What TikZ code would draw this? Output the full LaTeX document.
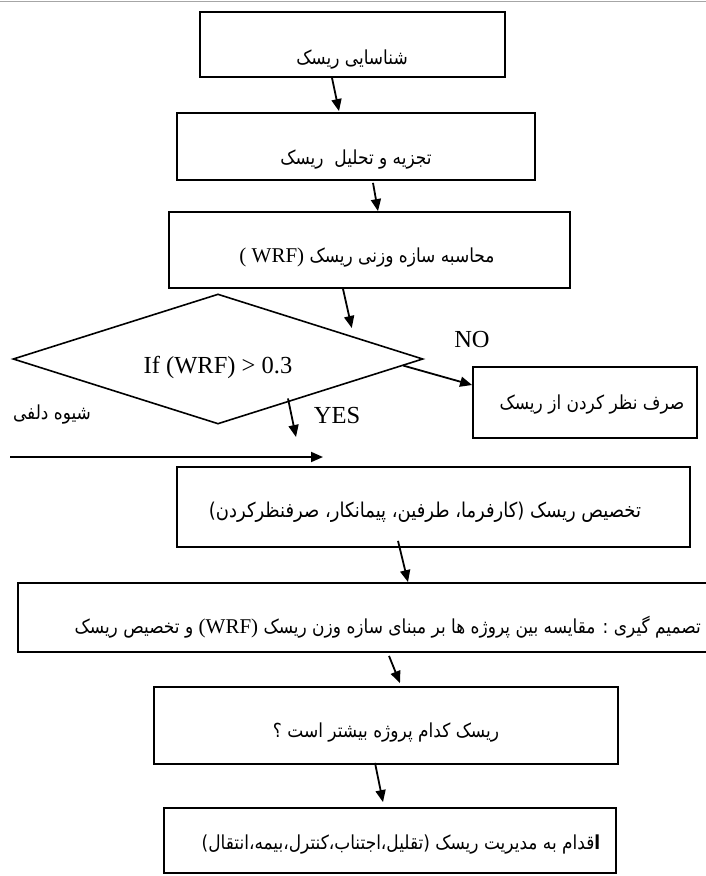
\documentclass[tikz,border=0pt]{standalone}
\usepackage{fontspec}
\setmainfont{Liberation Serif}
\newfontfamily\arabicfont[Script=Arabic,FakeStretch=0.88]{DejaVu Sans}
\TeXXeTstate=1
\usetikzlibrary{arrows.meta,shapes.geometric,calc}
\newcommand\fatext[2][19.3]{{\arabicfont\fontsize{#1}{22}\selectfont\beginR #2\endR}}
\newcommand\lat[1]{\beginL{\rmfamily\fontsize{21}{24}\selectfont #1}\endL}
\begin{document}
\begin{tikzpicture}[x=1pt,y=-1pt,
  box/.style={draw, line width=1.8pt, rectangle, inner sep=0pt},
  arr/.style={-{Triangle[length=12pt,width=10pt]}, line width=1.8pt},
  txt/.style={inner sep=0pt, anchor=center},
  ltxt/.style={inner sep=0pt, anchor=center, font=\fontsize{24.5}{28}\selectfont}]
\useasboundingbox (0,0) rectangle (706,876);
\draw[black!35, line width=1pt] (0,1) -- (706,1);

% boxes
\node[box, minimum width=305pt, minimum height=65pt] (b1) at (352.5,44.5) {};
\node[box, minimum width=358pt, minimum height=67pt] (b2) at (356,146.5) {};
\node[box, minimum width=401pt, minimum height=76pt] (b3) at (369.5,250) {};
\node[draw, line width=1.6pt, diamond, aspect=3.15, minimum width=410pt, minimum height=130pt, inner sep=0pt] (d) at (218,359) {};
\node[box, minimum width=224pt, minimum height=71pt] (nob) at (585,402.5) {};
\node[box, minimum width=513pt, minimum height=80pt] (b5) at (433.5,507) {};
\node[box, minimum width=712pt, minimum height=69pt] (b6) at (374,617.5) {};
\node[box, minimum width=464pt, minimum height=77pt] (b7) at (386,725.5) {};
\node[box, minimum width=452pt, minimum height=65pt] (b8) at (390,840.5) {};

% texts
\node[txt] (t1) at (352,60) {\fatext{شناسایی ریسک}};
\node[txt] (t2) at (356,160) {\fatext{تجزیه و تحلیل\ \ ریسک}};
\node[txt] (t3) at (367,258) {\fatext{محاسبه سازه وزنی ریسک \lat{( WRF)}}};
\node[ltxt] (td) at (218,367) {If (WRF) > 0.3};
\node[ltxt] (tno) at (472,340) {NO};
\node[ltxt] (tyes) at (337,416) {YES};
\node[txt] (tdel) at (52,415) {\fatext{شیوه دلفی}};
\node[txt] (tnob) at (592,405) {\fatext{صرف نظر کردن از ریسک}};
\node[txt] (t5) at (425,512) {\fatext[20.4]{تخصیص ریسک (کارفرما، طرفین، پیمانکار، صرفنظرکردن)}};
\node[txt, anchor=east] (t6) at (701,627) {\fatext{تصمیم گیری : مقایسه بین پروژه ها بر مبنای سازه وزن ریسک \lat{(WRF)} و تخصیص ریسک}};
\node[txt] (t7) at (386,733) {\fatext{ریسک کدام پروژه بیشتر است ؟}};
\node[txt] (t8) at (401,845) {\fatext{{\bfseries ا}قدام به مدیریت ریسک (تقلیل،اجتناب،کنترل،بیمه،انتقال)}};

% free coordinates
\coordinate (yesend) at (296,437);
\coordinate (dstart) at (10,457);
\coordinate (dend) at (323,457);

% connectors
\draw[arr] ([xshift=-20.5pt]b1.south) -- ([xshift=-17pt,yshift=1pt]b2.north);
\draw[arr] ([xshift=17pt,yshift=-2pt]b2.south) -- ([xshift=8.5pt]b3.north);
\draw[arr] ([xshift=-26.5pt]b3.south) -- ([yshift=8pt]$(d.north)!0.65!(d.east)$);
\draw[arr] ($(d.east)!0.1!(d.south)$) -- ([yshift=17.5pt]nob.west);
\draw[arr] ([yshift=4pt]$(d.south)!0.34!(d.east)$) -- (yesend);
\draw[arr] (dstart) -- (dend);
\draw[arr] ([xshift=-35.5pt,yshift=7pt]b5.south) -- ([xshift=34pt]b6.north);
\draw[arr] ([xshift=15pt,yshift=-3pt]b6.south) -- ([xshift=14pt,yshift=3pt]b7.north);
\draw[arr] ([xshift=-11pt,yshift=2pt]b7.south) -- ([xshift=-7pt,yshift=5pt]b8.north);
\end{tikzpicture}
\end{document}
